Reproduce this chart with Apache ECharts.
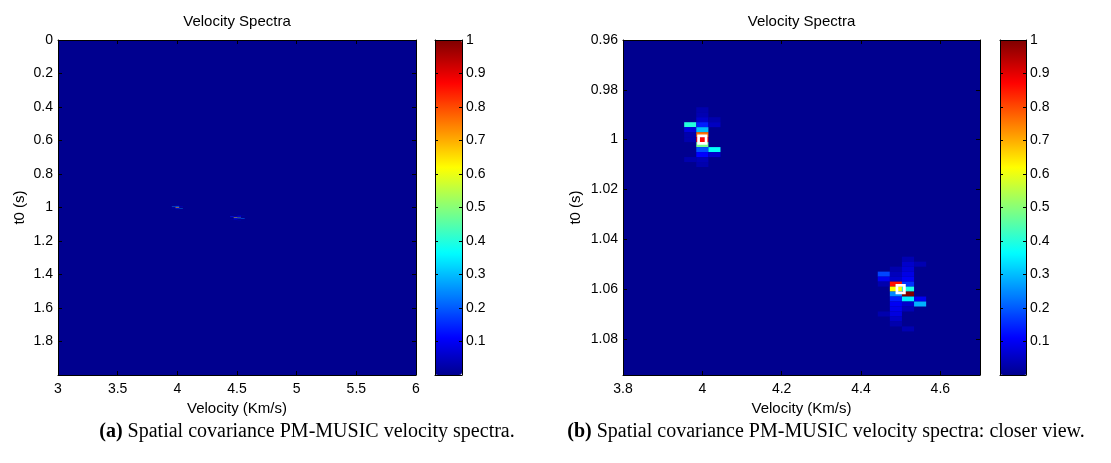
<!DOCTYPE html>
<html>
<head>
<meta charset="utf-8">
<script src="https://cdn.jsdelivr.net/npm/echarts@6/dist/echarts.min.js"></script>
<style>
html,body{margin:0;padding:0;background:#fff;}
#chart{width:1111px;height:463px;}
</style>
</head>
<body>
<div id="chart"></div>
<script>
// ------------------------- data -------------------------
const fullVelocityRange = [3, 6];        // Km/s, panel (a)
const fullT0Range = [0, 2];              // s, panel (a)
const zoomVelocityRange = [3.8, 4.7];    // Km/s, panel (b)
const zoomT0Range = [0.96, 1.0945];      // s, panel (b)
const fullVelocityTickStep = 0.5;
const fullT0TickStep = 0.2;
const zoomVelocityTickStep = 0.2;
const zoomT0TickStep = 0.02;
const colorRange = [0, 1];
const colorTickStep = 0.1;

const velocityStep = 0.0305;   // spectrum cell width (Km/s)
const t0Step = 0.002;          // spectrum cell height (s)
const floorLevel = 0;          // spectrum level everywhere else

// [velocity (Km/s), t0 (s), normalised power]
const spectrumCells = [
  [4.0, 0.988, 0.03],
  [4.0, 0.990, 0.035],
  [4.0, 0.992, 0.06], [4.0305, 0.992, 0.03],
  [3.9695, 0.994, 0.40], [4.0, 0.994, 0.14], [4.0305, 0.994, 0.05],
  [3.9695, 0.996, 0.075], [4.0, 0.996, 0.30],
  [3.9695, 0.998, 0.03], [4.0, 0.998, 0.76],
  [3.9695, 1.000, 0.03], [4.0, 1.000, 0.87],
  [4.0, 1.002, 0.48],
  [4.0, 1.004, 0.19], [4.0305, 1.004, 0.37],
  [4.0, 1.006, 0.11], [4.0305, 1.006, 0.06],
  [3.9695, 1.008, 0.03], [4.0, 1.008, 0.04],
  [4.0, 1.010, 0.03],

  [4.5185, 1.048, 0.035],
  [4.5185, 1.050, 0.06], [4.549, 1.050, 0.035],
  [4.488, 1.052, 0.03], [4.5185, 1.052, 0.07],
  [4.4575, 1.054, 0.18], [4.488, 1.054, 0.045], [4.5185, 1.054, 0.085],
  [4.4575, 1.056, 0.095], [4.488, 1.056, 0.06], [4.5185, 1.056, 0.10],
  [4.4575, 1.058, 0.03], [4.488, 1.058, 0.86], [4.5185, 1.058, 0.16],
  [4.488, 1.060, 0.62], [4.5185, 1.060, 0.39],
  [4.488, 1.062, 0.25], [4.5185, 1.062, 1.0],
  [4.488, 1.064, 0.14], [4.5185, 1.064, 0.35], [4.549, 1.064, 0.095],
  [4.488, 1.066, 0.10], [4.5185, 1.066, 0.06], [4.549, 1.066, 0.29],
  [4.488, 1.068, 0.09], [4.5185, 1.068, 0.04],
  [4.4575, 1.070, 0.03], [4.488, 1.070, 0.08],
  [4.488, 1.072, 0.055],
  [4.488, 1.074, 0.03],
  [4.5185, 1.076, 0.035]
];

// true (velocity, t0) of the two events, marked in panel (b)
const trueModels = [[4.0, 1.0], [4.5, 1.06]];

const titleText = 'Velocity Spectra';
const xName = 'Velocity (Km/s)';
const yName = 't0 (s)';
const captionTags = ['(a)', '(b)'];
const captionTexts = [
  'Spatial covariance PM-MUSIC velocity spectra.',
  'Spatial covariance PM-MUSIC velocity spectra: closer view.'
];

// ------------------------- style helpers -------------------------
const SANS = 'Liberation Sans, Arial, Helvetica, sans-serif';
const SERIF = 'Liberation Serif, Times New Roman, serif';
const TICK_FS = 14;
const NAME_FS = 15;

function jetColors(m) {
  const n = Math.ceil(m / 4);
  const u = [];
  for (let i = 1; i <= n; i++) u.push(i / n);
  for (let i = 1; i < n; i++) u.push(1);
  for (let i = n; i >= 1; i--) u.push(i / n);
  const off = Math.ceil(n / 2) - (m % 4 === 1 ? 1 : 0);
  const R = new Array(m).fill(0), G = new Array(m).fill(0), B = new Array(m).fill(0);
  for (let k = 0; k < u.length; k++) {
    const g = off + k + 1, r = g + n, b = g - n;
    if (g >= 1 && g <= m) G[g - 1] = u[k];
    if (r >= 1 && r <= m) R[r - 1] = u[k];
    if (b >= 1 && b <= m) B[b - 1] = u[k];
  }
  const hex = x => ('0' + Math.round(x * 255).toString(16)).slice(-2);
  const out = [];
  for (let i = 0; i < m; i++) out.push('#' + hex(R[i]) + hex(G[i]) + hex(B[i]));
  return out;
}
const JET = jetColors(64);

function cellData(vRange, tRange) {
  const floor = [(vRange[0] + vRange[1]) / 2, (tRange[0] + tRange[1]) / 2, floorLevel,
                 vRange[1] - vRange[0], tRange[1] - tRange[0]];
  return [floor].concat(spectrumCells.map(c => [c[0], c[1], c[2], velocityStep, t0Step]));
}

function renderCell(params, api) {
  const v = api.value(0), t = api.value(1), w = api.value(3), h = api.value(4);
  const a = api.coord([v - w / 2, t - h / 2]);
  const b = api.coord([v + w / 2, t + h / 2]);
  const cs = params.coordSys;
  const rect = echarts.graphic.clipRectByRect(
    {x: Math.min(a[0], b[0]), y: Math.min(a[1], b[1]), width: Math.abs(b[0] - a[0]), height: Math.abs(b[1] - a[1])},
    {x: cs.x, y: cs.y, width: cs.width, height: cs.height});
  if (!rect) return;
  return {type: 'rect', shape: rect, style: {fill: api.visual('color')}};
}

const lineStyle = {color: '#000', width: 1};
function fmt(d) { return function (v) { return String(+v.toFixed(d)); }; }

function mainX(grid, range, step, withLabels, position) {
  return {
    type: 'value', gridIndex: grid, position: position, min: range[0], max: range[1], interval: step,
    z: 10,
    axisLine: {show: true, onZero: false, lineStyle: lineStyle},
    axisTick: {show: true, inside: true, length: 4, lineStyle: lineStyle},
    axisLabel: withLabels ? {show: true, color: '#000', fontFamily: SANS, fontSize: TICK_FS, margin: 7,
      showMaxLabel: range[1] % step < 1e-9 || step - (range[1] % step) < 1e-9 ? true : false,
      formatter: fmt(2)} : {show: false},
    splitLine: {show: false},
    name: withLabels ? xName : '', nameLocation: 'middle', nameGap: 23,
    nameTextStyle: {color: '#000', fontFamily: SANS, fontSize: NAME_FS}
  };
}
function mainY(grid, range, step, withLabels, position, nameGap) {
  return {
    type: 'value', gridIndex: grid, position: position, inverse: true, min: range[0], max: range[1], interval: step,
    z: 10,
    axisLine: {show: true, onZero: false, lineStyle: lineStyle},
    axisTick: {show: true, inside: true, length: 4, lineStyle: lineStyle},
    axisLabel: withLabels ? {show: true, color: '#000', fontFamily: SANS, fontSize: TICK_FS, margin: 5,
      showMaxLabel: false, formatter: fmt(3)} : {show: false},
    splitLine: {show: false},
    name: withLabels ? yName : '', nameLocation: 'middle', nameGap: nameGap || 30,
    nameTextStyle: {color: '#000', fontFamily: SANS, fontSize: NAME_FS}
  };
}
function barX(grid, position) {
  return {
    type: 'value', gridIndex: grid, position: position, min: 0, max: 1, z: 10,
    axisLine: {show: true, onZero: false, lineStyle: lineStyle},
    axisTick: {show: false}, axisLabel: {show: false}, splitLine: {show: false}
  };
}
function barY(grid, position, withLabels) {
  return {
    type: 'value', gridIndex: grid, position: position, min: colorRange[0], max: colorRange[1], interval: colorTickStep,
    z: 10,
    axisLine: {show: true, onZero: false, lineStyle: lineStyle},
    axisTick: {show: true, inside: true, length: 3, lineStyle: lineStyle},
    axisLabel: withLabels ? {show: true, color: '#000', fontFamily: SANS, fontSize: TICK_FS, margin: 4,
      formatter: function (v) { return v === 0 ? '' : String(+v.toFixed(1)); }} : {show: false},
    splitLine: {show: false}
  };
}

const grids = [
  {left: 58, top: 40, width: 358, height: 335},
  {left: 435, top: 40, width: 27, height: 335},
  {left: 623, top: 40, width: 357, height: 335},
  {left: 1000, top: 40, width: 26, height: 335}
].map(g => Object.assign({show: false, containLabel: false, outerBoundsMode: 'none'}, g));

function colorBar(seriesIndex, left) {
  return {
    type: 'continuous', seriesIndex: seriesIndex, dimension: 2,
    min: colorRange[0], max: colorRange[1], calculable: false, realtime: false,
    orient: 'vertical', left: left, top: 40, itemWidth: 27, itemHeight: 335, padding: 0,
    text: null, showLabel: false, hoverLink: false,
    inRange: {color: JET}
  };
}

const option = {
  animation: false,
  backgroundColor: '#fff',
  grid: grids,
  xAxis: [
    mainX(0, fullVelocityRange, fullVelocityTickStep, true, 'bottom'),
    mainX(0, fullVelocityRange, fullVelocityTickStep, false, 'top'),
    barX(1, 'bottom'), barX(1, 'top'),
    mainX(2, zoomVelocityRange, zoomVelocityTickStep, true, 'bottom'),
    mainX(2, zoomVelocityRange, zoomVelocityTickStep, false, 'top'),
    barX(3, 'bottom'), barX(3, 'top')
  ],
  yAxis: [
    mainY(0, fullT0Range, fullT0TickStep, true, 'left', 31),
    mainY(0, fullT0Range, fullT0TickStep, false, 'right'),
    barY(1, 'right', true), barY(1, 'left', false),
    mainY(2, zoomT0Range, zoomT0TickStep, true, 'left', 40),
    mainY(2, zoomT0Range, zoomT0TickStep, false, 'right'),
    barY(3, 'right', true), barY(3, 'left', false)
  ],
  visualMap: [colorBar(0, 435), colorBar(1, 1000)],
  series: [
    {type: 'custom', xAxisIndex: 0, yAxisIndex: 0, renderItem: renderCell,
     encode: {x: 0, y: 1}, data: cellData(fullVelocityRange, fullT0Range), silent: true, z: 2},
    {type: 'custom', xAxisIndex: 4, yAxisIndex: 4, renderItem: renderCell,
     encode: {x: 0, y: 1}, data: cellData(zoomVelocityRange, zoomT0Range), silent: true, z: 2},
    {type: 'scatter', xAxisIndex: 4, yAxisIndex: 4, data: trueModels, symbol: 'rect', symbolSize: 7.5,
     itemStyle: {color: 'rgba(0,0,0,0)', borderColor: '#fff', borderWidth: 2.7, opacity: 1},
     silent: true, z: 5}
  ],
  graphic: [
    {type: 'text', x: 237, y: 22, silent: true,
     style: {text: titleText, fill: '#000', font: NAME_FS + 'px ' + SANS, align: 'center', verticalAlign: 'middle'}},
    {type: 'text', x: 801.5, y: 22, silent: true,
     style: {text: titleText, fill: '#000', font: NAME_FS + 'px ' + SANS, align: 'center', verticalAlign: 'middle'}},
    {type: 'text', x: 307, y: 432, silent: true,
     style: {text: '{b|' + captionTags[0] + '} ' + captionTexts[0], fill: '#000', fontFamily: SERIF, fontSize: 20,
       align: 'center', verticalAlign: 'middle',
       rich: {b: {fontFamily: SERIF, fontSize: 20, fontWeight: 'bold', fill: '#000'}}}},
    {type: 'text', x: 826, y: 432, silent: true,
     style: {text: '{b|' + captionTags[1] + '} ' + captionTexts[1], fill: '#000', fontFamily: SERIF, fontSize: 20,
       align: 'center', verticalAlign: 'middle',
       rich: {b: {fontFamily: SERIF, fontSize: 20, fontWeight: 'bold', fill: '#000'}}}}
  ]
};

const chart = echarts.init(document.getElementById('chart'), null, {renderer: 'canvas'});
chart.setOption(option);
</script>
</body>
</html>
